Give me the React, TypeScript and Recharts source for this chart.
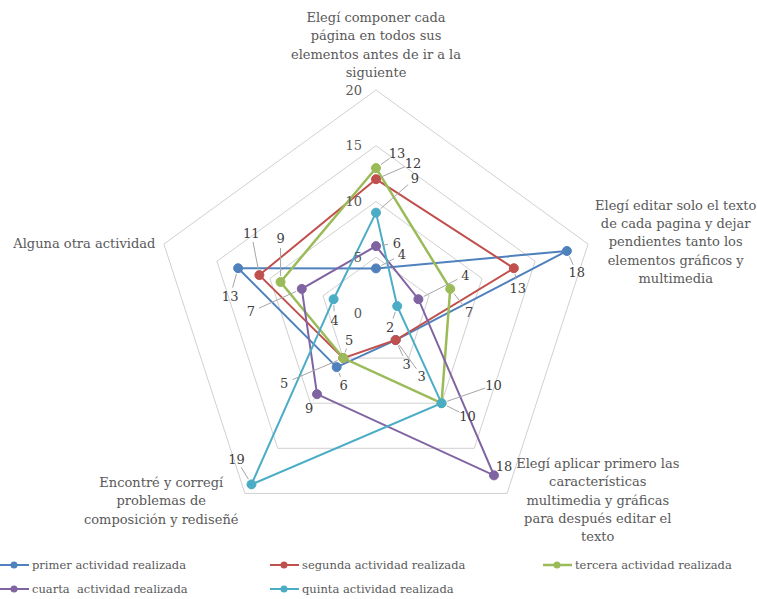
import { Legend, PolarAngleAxis, PolarGrid, PolarRadiusAxis, Radar, RadarChart } from 'recharts'

// axis categories (clockwise from top)
const categories = [
  'Elegí componer cada página en todos sus elementos antes de ir a la siguiente',
  'Elegí editar solo el texto de cada pagina y dejar pendientes tanto los elementos gráficos y multimedia',
  'Elegí aplicar primero las características multimedia y gráficas para después editar el texto',
  'Encontré y corregí problemas de composición y rediseñé',
  'Alguna otra actividad',
]

const categoryLines = [
  ['Elegí componer cada', 'página en todos sus', 'elementos antes de ir a la', 'siguiente'],
  ['Elegí editar solo el texto', 'de cada pagina y dejar', 'pendientes tanto los', 'elementos gráficos y', 'multimedia'],
  ['Elegí aplicar primero las', 'características', 'multimedia y gráficas', 'para después editar el', 'texto'],
  ['Encontré y corregí', 'problemas de', 'composición y rediseñé'],
  ['Alguna otra actividad'],
]

const primer = [4, 18, 3, 6, 13]
const segunda = [12, 13, 3, 5, 11]
const tercera = [13, 7, 10, 5, 9]
const cuarta = [6, 4, 18, 9, 7]
const quinta = [9, 2, 10, 19, 4]

const radiusTicks = [0, 5, 10, 15, 20]

// label placement relative to the point (dx, dy), per axis
const series = [
  { key: 'primer', name: 'primer actividad realizada', values: primer, color: '#4F81BD', width: 2,
    offsets: [[26, -14], [10, 22], [11, 24], [7, 18], [-8, 28]] },
  { key: 'segunda', name: 'segunda actividad realizada', values: segunda, color: '#C0504D', width: 2,
    offsets: [[37, -16], [4, 20], [26, 36], [6, -18], [-8, -42]] },
  { key: 'tercera', name: 'tercera actividad realizada', values: tercera, color: '#9BBB59', width: 2.5,
    offsets: [[21, -15], [19, 24], [52, -18], [-59, 25], [0, -43]] },
  { key: 'cuarta', name: 'cuarta  actividad realizada', values: cuarta, color: '#8064A2', width: 2,
    offsets: [[21, -3], [47, -24], [10, -9], [-8, 14], [-51, 23]] },
  { key: 'quinta', name: 'quinta actividad realizada', values: quinta, color: '#4BACC6', width: 2,
    offsets: [[39, -34], [-7, 21], [26, 13], [-15, -25], [1, 21]] },
]

// where each category block starts relative to the tick anchor
const categoryOffsets = [[0, -65], [80, -37], [86, -37], [-79, -18], [-72, 1]]

const data = categories.map((c, i) => {
  const row: Record<string, string | number> = { category: c }
  series.forEach((s) => (row[s.key] = s.values[i]))
  return row
})

const font = 'DejaVu Serif'
const textColor = '#595959'

function AngleTick(props: any) {
  const { x, y, payload } = props
  const i = categories.indexOf(payload.value)
  const [dx, dy] = categoryOffsets[i]
  return (
    <text
      x={x + dx}
      y={y + dy}
      textAnchor="middle"
      dominantBaseline="central"
      fill={textColor}
      fontSize={13}
      fontFamily={font}
    >
      {categoryLines[i].map((line, k) => (
        <tspan key={k} x={x + dx} dy={k === 0 ? 0 : 18.4}>
          {line}
        </tspan>
      ))}
    </text>
  )
}

function RadiusTick(props: any) {
  const { x, y, payload } = props
  return (
    <text x={x - 14} y={y} textAnchor="end" dominantBaseline="central" fill={textColor} fontSize={13} fontFamily={font}>
      {payload.value}
    </text>
  )
}

function makeDot(s: (typeof series)[number]) {
  return (props: any) => {
    const { cx, cy, index } = props
    const [dx, dy] = s.offsets[index]
    const lx = cx + dx
    const ly = cy + dy
    const d = Math.hypot(dx, dy)
    const ux = dx / d
    const uy = dy / d
    return (
      <g key={`dot-${s.key}-${index}`}>
        {d > 16 && (
          <line x1={cx + ux * 6} y1={cy + uy * 6} x2={lx - ux * 9} y2={ly - uy * 9} stroke="#a6a6a6" strokeWidth={1} />
        )}
        <circle cx={cx} cy={cy} r={4.5} fill={s.color} stroke={s.color} />
        <text x={lx} y={ly} textAnchor="middle" dominantBaseline="central" fill="#404040" fontSize={13} fontFamily={font}>
          {s.values[index]}
        </text>
      </g>
    )
  }
}

const legendCols = [0, 270, 543]
const legendRows = [565, 589]

function LegendContent() {
  return (
    <div style={{ position: 'relative', width: 757, height: 49 }}>
      {series.map((s, i) => {
        const left = legendCols[i % 3]
        const top = legendRows[Math.floor(i / 3)] - 553 - 8
        return (
          <div key={s.key} style={{ position: 'absolute', left, top, height: 16, display: 'flex', alignItems: 'center' }}>
            <svg width={30} height={16}>
              <line x1={0} y1={8} x2={29} y2={8} stroke={s.color} strokeWidth={s.width} />
              <circle cx={14} cy={8} r={3.5} fill={s.color} />
            </svg>
            <span style={{ marginLeft: 2, fontFamily: font, fontSize: 11.5, color: textColor, whiteSpace: 'pre' }}>{s.name}</span>
          </div>
        )
      })}
    </div>
  )
}

export default function App() {
  return (
    <div style={{ position: 'absolute', left: 0, top: 0, width: 757, height: 599, background: '#fff' }}>
      <RadarChart width={757} height={599} data={data} cx={376} cy={313} outerRadius={223} margin={{ top: 0, right: 0, bottom: 0, left: 0 }}>
        <PolarGrid gridType="polygon" radialLines={false} stroke="#d0d0d0" />
        <PolarAngleAxis dataKey="category" tick={<AngleTick />} tickLine={false} axisLine={false} />
        <PolarRadiusAxis angle={90} domain={[0, 20]} ticks={radiusTicks} tickCount={5} axisLine={false} tick={<RadiusTick />} />
        {series.map((s) => (
          <Radar
            key={s.key}
            name={s.name}
            dataKey={s.key}
            stroke={s.color}
            strokeWidth={s.width}
            fill="none"
            fillOpacity={0}
            dot={makeDot(s)}
            isAnimationActive={false}
          />
        ))}
        <Legend
          content={<LegendContent />}
          wrapperStyle={{ position: 'absolute', left: 0, top: 553, width: 757, height: 49 }}
        />
      </RadarChart>
    </div>
  )
}
